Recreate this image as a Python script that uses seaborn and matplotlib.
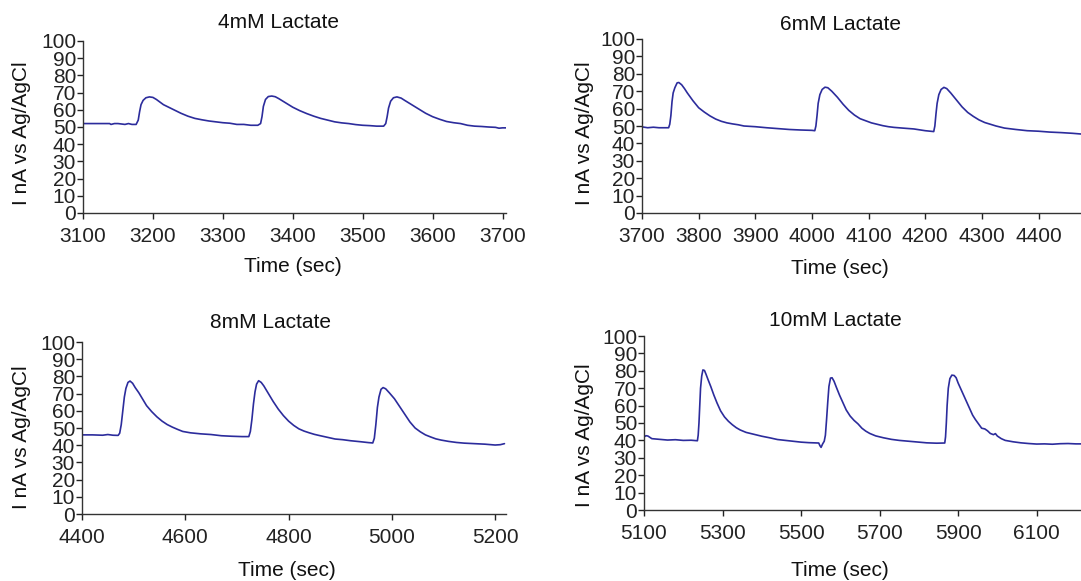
import pandas as pd
import matplotlib
matplotlib.use("Agg")
import matplotlib.pyplot as plt
import seaborn as sns

# values (time in sec, current in nA)
t_4mM = [3100, 3120, 3138, 3140, 3145, 3150, 3160, 3165, 3170, 3176,
         3179, 3181, 3183, 3186, 3190, 3195, 3200, 3205, 3210, 3215,
         3220, 3230, 3240, 3250, 3260, 3270, 3280, 3290, 3300, 3310,
         3320, 3330, 3340, 3350, 3354, 3356, 3358, 3361, 3365, 3370,
         3375, 3380, 3390, 3400, 3410, 3420, 3430, 3440, 3450, 3460,
         3470, 3480, 3490, 3500, 3510, 3520, 3530, 3533, 3535, 3537,
         3540, 3544, 3549, 3555, 3560, 3570, 3580, 3590, 3600, 3610,
         3620, 3630, 3640, 3650, 3660, 3670, 3680, 3690, 3695, 3700,
         3705]
i_4mM = [52, 52, 52, 51.5, 52, 52, 51.5, 52, 51.5, 51.5,
         54, 59, 63, 65.5, 67, 67.5, 67.2, 66, 64.5, 63,
         62, 60, 58, 56.3, 55, 54.2, 53.5, 53, 52.5, 52.2,
         51.5, 51.5, 51, 51, 52, 56, 62, 66, 67.7, 68,
         67.6, 66.5, 64, 61.5, 59.5, 57.8, 56.3, 55, 54, 53,
         52.4, 52, 51.4, 51, 50.8, 50.5, 50.5, 52, 56, 61,
         65, 67, 67.5, 66.8, 65.5, 63, 60.5, 58, 56, 54.5,
         53.2, 52.5, 52, 51, 50.5, 50.3, 50, 49.8, 49.3, 49.5,
         49.5]

t_6mM = [3700, 3710, 3720, 3730, 3740, 3747, 3749, 3751, 3753, 3755,
         3758, 3762, 3765, 3770, 3775, 3780, 3790, 3800, 3810, 3820,
         3830, 3840, 3850, 3860, 3870, 3880, 3890, 3900, 3920, 3940,
         3960, 3980, 4000, 4005, 4007, 4009, 4011, 4014, 4018, 4023,
         4028, 4035, 4045, 4055, 4065, 4075, 4085, 4095, 4105, 4115,
         4125, 4135, 4145, 4160, 4180, 4200, 4215, 4217, 4219, 4221,
         4224, 4228, 4233, 4238, 4245, 4255, 4265, 4275, 4285, 4295,
         4305, 4315, 4325, 4340, 4360, 4380, 4400, 4420, 4440, 4460,
         4475]
i_6mM = [49.5, 49, 49.3, 49, 49, 49, 51, 56, 64, 69,
         72, 74.8, 75, 73.7, 71.5, 69, 64.5, 60.5, 58, 55.8,
         54, 52.7, 51.8, 51.2, 50.7, 50, 49.8, 49.6, 49, 48.5,
         48, 47.7, 47.5, 47.3, 50, 56, 63, 68, 71, 72.3,
         72, 70, 66.5, 62.5, 59, 56.3, 54.2, 53, 51.8, 51,
         50.2, 49.6, 49.2, 48.8, 48.3, 47.3, 46.8, 50, 57, 63,
         68, 71, 72.2, 71.5, 69, 65, 61, 57.8, 55.5, 53.5,
         52, 51, 50, 48.8, 48, 47.3, 47, 46.5, 46.2, 45.8,
         45.4]

t_8mM = [4400, 4420, 4440, 4450, 4460, 4470, 4473, 4476, 4479, 4482,
         4485, 4489, 4493, 4498, 4503, 4510, 4517, 4525, 4535, 4545,
         4555, 4565, 4575, 4585, 4595, 4610, 4630, 4650, 4670, 4690,
         4710, 4723, 4726, 4729, 4732, 4735, 4738, 4742, 4747, 4752,
         4760, 4770, 4780, 4790, 4800, 4810, 4820, 4830, 4840, 4850,
         4860, 4875, 4890, 4905, 4920, 4940, 4955, 4963, 4966, 4969,
         4972, 4975, 4979, 4983, 4988, 4995, 5005, 5015, 5025, 5035,
         5045, 5055, 5065, 5075, 5085, 5095, 5110, 5125, 5140, 5160,
         5180, 5200, 5210, 5218]
i_8mM = [46, 46, 45.8, 46.2, 45.8, 45.7, 47, 52, 60, 68,
         73, 76.5, 77.3, 76, 73.5, 70.5, 67, 63, 59.5, 56.5,
         54, 52, 50.5, 49.2, 48, 47.2, 46.6, 46.2, 45.5, 45.2,
         45, 45, 48, 55, 64, 71, 75.5, 77.5, 76.5, 74.5,
         70.5, 65.5, 61, 57.2, 54, 51.5, 49.5, 48.2, 47.2, 46.3,
         45.6, 44.6, 43.6, 43.2, 42.6, 42, 41.5, 41.3, 44, 52,
         62, 68, 72.5, 73.5, 72.8, 70.5, 67, 62.5, 58, 53.5,
         50, 47.8, 46, 44.8, 43.7, 43, 42.2, 41.6, 41.2, 40.9,
         40.6, 40.1, 40.3, 40.9]

t_10mM = [5100, 5105, 5110, 5120, 5140, 5160, 5180, 5200, 5220, 5236,
          5238, 5240, 5242, 5244, 5247, 5250, 5254, 5258, 5263, 5270,
          5278, 5286, 5295, 5305, 5315, 5325, 5335, 5345, 5360, 5380,
          5400, 5420, 5440, 5460, 5480, 5500, 5520, 5545, 5548, 5551,
          5555, 5559, 5562, 5565, 5568, 5571, 5575, 5579, 5584, 5590,
          5598, 5606, 5615, 5625, 5635, 5645, 5655, 5665, 5675, 5690,
          5710, 5730, 5750, 5780, 5800, 5820, 5845, 5866, 5868, 5870,
          5872, 5875, 5879, 5884, 5890, 5895, 5900, 5907, 5915, 5923,
          5930, 5937, 5944, 5952, 5960, 5968, 5975, 5982, 5990, 5995,
          6000, 6010, 6020, 6040, 6060, 6080, 6100, 6120, 6140, 6160,
          6180, 6200, 6213]
i_10mM = [42, 42.7, 42.5, 41, 40.6, 40.2, 40.4, 40, 40.1, 39.8,
          43, 50, 60, 70, 77, 80.5, 80.2, 78, 75, 71,
          66, 61.5, 57, 53.5, 51, 49, 47.3, 46, 44.6, 43.5,
          42.4, 41.5, 40.5, 40, 39.5, 39, 38.7, 38.5, 37, 36,
          38, 39.5, 43, 52, 62, 71, 75.8, 76, 74, 70.5,
          66, 62, 57.5, 54, 51.5, 49.5, 47, 45.3, 44, 42.6,
          41.5, 40.6, 40, 39.4, 39, 38.6, 38.4, 38.5, 42, 50,
          60, 70, 75.5, 77.5, 77.3, 76, 73, 69.5, 65.5, 61.5,
          58, 54.5, 52, 49.5, 47, 46.6, 45.5, 44, 43.3, 43.9,
          42.5, 41, 40, 39.2, 38.6, 38.2, 37.9, 38, 37.8, 38.1,
          38.2, 38, 38]

titles = ["4mM Lactate", "6mM Lactate", "8mM Lactate", "10mM Lactate"]
series = [(t_4mM, i_4mM), (t_6mM, i_6mM), (t_8mM, i_8mM), (t_10mM, i_10mM)]
xlims = [(3100, 3705), (3700, 4475), (4400, 5221), (5100, 6213)]
xticks = [range(3100, 3701, 100), range(3700, 4401, 100),
          range(4400, 5201, 200), range(5100, 6101, 200)]

W, H = 1081, 581
# pixel boxes of the plot areas: left, right, top, bottom
boxes = [(83, 506, 41, 213), (642, 1081, 39, 213), (82, 506, 342, 514), (644, 1081, 336, 510)]
title_pos = [(278, 22), (840, 24), (271, 322), (835, 321)]
xlab_pos = [(293, 267), (840, 269), (287, 571), (840, 571)]
ylab_pos = [(22, 133), (585, 133), (22, 437), (585, 435)]

sns.set_style("ticks")
plt.rcParams['font.family'] = ['Liberation Sans', 'DejaVu Sans']
fs = 15
line_color = "#2c2c9c"

fig = plt.figure(figsize=(W / 100, H / 100), dpi=100)

for k in range(4):
    l, r, t, b = boxes[k]
    ax = fig.add_axes([l / W, 1 - b / H, (r - l) / W, (b - t) / H])
    df = pd.DataFrame({"time": series[k][0], "current": series[k][1]})
    sns.lineplot(data=df, x="time", y="current", ax=ax, color=line_color, linewidth=1.2)
    ax.set_xlim(*xlims[k])
    ax.set_ylim(0, 100)
    ax.set_yticks(range(0, 101, 10))
    ax.set_xticks(list(xticks[k]))
    ax.set_xlabel("")
    ax.set_ylabel("")
    for s in ["top", "right"]:
        ax.spines[s].set_visible(False)
    for s in ["left", "bottom"]:
        ax.spines[s].set_color("#333333")
        ax.spines[s].set_linewidth(1.0)
    ax.tick_params(axis="y", length=4, width=1, pad=1, labelsize=fs, colors="#222222")
    ax.tick_params(axis="x", length=4, width=1, pad=6, labelsize=fs, colors="#222222")

    fig.text(title_pos[k][0] / W, 1 - title_pos[k][1] / H, titles[k],
             ha="center", va="center", fontsize=fs, color="#111111")
    fig.text(xlab_pos[k][0] / W, 1 - xlab_pos[k][1] / H, "Time (sec)",
             ha="center", va="center", fontsize=fs, color="#111111")
    fig.text(ylab_pos[k][0] / W, 1 - ylab_pos[k][1] / H, "I nA vs Ag/AgCl",
             ha="center", va="center", rotation=90, fontsize=fs, color="#111111")

plt.savefig("out.png", dpi=100)
